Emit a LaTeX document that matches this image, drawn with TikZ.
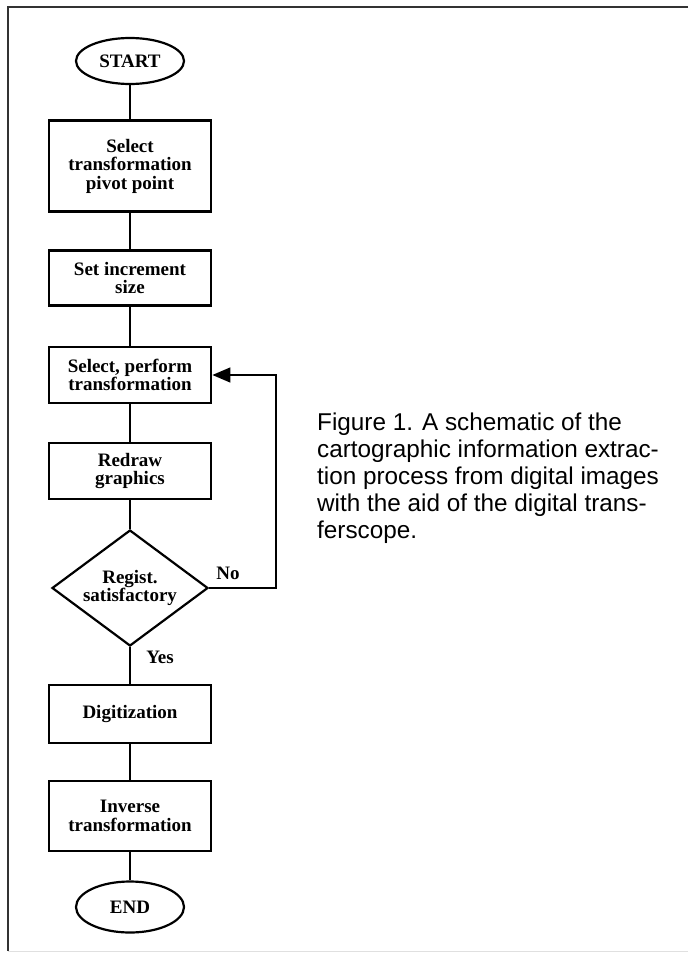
\documentclass[tikz,border=0pt]{standalone}
\usepackage{fontspec}
\setmainfont{Liberation Serif}
\newfontfamily\capfont{Liberation Sans}
\usetikzlibrary{shapes.geometric,arrows.meta}
\begin{document}
\begin{tikzpicture}[x=1pt,y=-1pt,
        box/.style={draw, line width=2.8pt, minimum width=162pt, inner sep=0pt, align=center, font=\fontsize{19}{18.5}\selectfont\bfseries},
        term/.style={draw, ellipse, line width=2.2pt, minimum width=108pt, minimum height=46pt, inner sep=0pt, font=\fontsize{19}{18.5}\selectfont\bfseries},
        test/.style={draw, diamond, aspect=1.35, line width=2.2pt, minimum width=156pt, minimum height=116pt, inner sep=0pt, align=center, font=\fontsize{19}{18.5}\selectfont\bfseries},
        link/.style={line width=1.5pt},
        lbl/.style={font=\fontsize{19}{18.5}\selectfont\bfseries}]
        \useasboundingbox (0,0) rectangle (688,955);

        % frame
        \draw[line width=1.6pt, black!80] (688,7) -- (8,7) -- (8,951);
        \draw[line width=1pt, black!12] (8,951) -- (688,951);

        \node[term] (start) at (130,61) {START};
        \node[box, minimum height=91pt] (pivot) at (130,166) {Select\\transformation\\pivot point};
        \node[box, minimum height=55pt] (incr) at (130,278) {Set increment\\size};
        \node[box, minimum height=56pt] (perform) at (130,375) {Select, perform\\transformation};
        \node[box, minimum height=56pt] (redraw) at (130,471) {Redraw\\graphics};
        \node[test] (regist) at (130,588) {Regist.\\satisfactory};
        \node[box, minimum height=58pt] (digit) at (130,714) {Digitization};
        \node[box, minimum height=70pt] (inverse) at (130,816) {Inverse\\transformation};
        \node[term, minimum height=51pt] (end) at (130,907) {END};

        \draw[link] (start) -- (pivot);
        \draw[link] (pivot) -- (incr);
        \draw[link] (incr) -- (perform);
        \draw[link] (perform) -- (redraw);
        \draw[link] (redraw) -- (regist);
        \draw[link] (regist) -- (digit);
        \draw[link] (digit) -- (inverse);
        \draw[link] (inverse) -- (end);

        % No: back to the transformation
        \coordinate (loop) at (276,588);
        \draw[link, -{Triangle[length=18pt,width=15pt]}] (regist.east) -- (loop) |- (perform.east);
        \node[lbl] (no) at (228,573) {No};
        \node[lbl] (yes) at (160,657) {Yes};

        \node[anchor=north west, align=left, inner sep=0pt, font=\capfont\fontsize{24.3}{27}\selectfont] (caption) at (317,413)
            {Figure 1. A schematic of the\\cartographic information extrac-\\tion process from digital images\\with the aid of the digital trans-\\ferscope.};
\end{tikzpicture}
\end{document}
